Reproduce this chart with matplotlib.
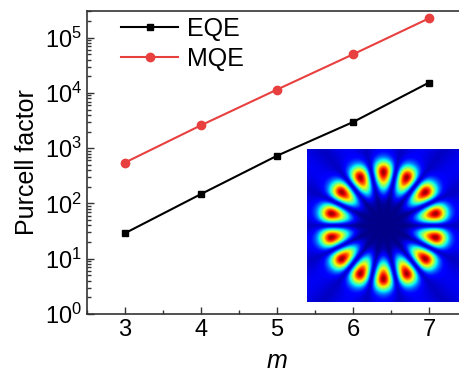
import numpy as np
import matplotlib
matplotlib.use("Agg")
import matplotlib.pyplot as plt
from matplotlib.ticker import LogLocator, FuncFormatter, MultipleLocator, NullFormatter

plt.rcParams['font.family'] = ['Liberation Sans', 'DejaVu Sans']
plt.rcParams['mathtext.default'] = 'regular'

m_values = [3, 4, 5, 6, 7]
eqe = [29, 148, 730, 2970, 15400]
mqe = [550, 2600, 11500, 50000, 224000]
series_labels = ["EQE", "MQE"]
x_label = "m"
y_label = "Purcell factor"

W, H = 459, 379
fig = plt.figure(figsize=(W / 100, H / 100), dpi=100)
ax = fig.add_axes([87 / W, 1 - 314 / H, 380 / W, 303 / H])

ax.plot(m_values, eqe, color='black', lw=1.5, marker='s', ms=5, label=series_labels[0])
ax.plot(m_values, mqe, color='#e8403f', lw=1.5, marker='o', ms=6, label=series_labels[1])

ax.set_yscale('log')
ax.set_xlim(2.5, 7.5)
ax.set_ylim(1, 3.04e5)
ax.xaxis.set_major_locator(MultipleLocator(1))
ax.xaxis.set_minor_locator(MultipleLocator(0.5))
ax.yaxis.set_major_locator(LogLocator(base=10, numticks=10))
ax.yaxis.set_minor_locator(LogLocator(base=10, subs=np.arange(2, 10), numticks=20))
ax.yaxis.set_minor_formatter(NullFormatter())
ax.yaxis.set_major_formatter(FuncFormatter(lambda v, p: r'$10^{%d}$' % int(round(np.log10(v)))))

ax.tick_params(which='both', direction='in', top=False, right=False, labelsize=17, width=1.0, color='#333333')
ax.tick_params(which='major', length=5)
ax.tick_params(which='minor', length=3)
for s in ax.spines.values():
    s.set_linewidth(1.2)
    s.set_color('#333333')
ax.spines['right'].set_visible(False)

ax.set_xlabel(x_label, fontsize=18, style='italic', labelpad=6)
ax.set_ylabel(y_label, fontsize=18, labelpad=4)

leg = ax.legend(loc='upper left', frameon=False, fontsize=18, handlelength=2.3,
                handletextpad=0.35, labelspacing=0.25, bbox_to_anchor=(0.03, 1.055))

# inset field pattern (azimuthal order 7 -> 14 lobes)
n = 301
g = np.linspace(-1, 1, n)
X, Y = np.meshgrid(g, g)
R = np.hypot(X, Y)
T = np.arctan2(-Y, X)
r0 = 0.69
s = np.where(R < r0, 0.22, 0.15)
A = 0.87 * np.exp(-((R - r0) / s) ** 2) * (R / r0) ** 0.6
ang = (np.sin(7 * T) ** 2) ** 0.7
bg = (0.012 + 0.09 / (1 + np.exp(-(R - 0.42) / 0.05))) * (0.6 + 0.4 * ang)
I = A * ang + bg

ax_in = fig.add_axes([306.5 / W, 1 - 302 / H, 153 / W, 153 / H])
ax_in.imshow(I, cmap='jet', vmin=0, vmax=1, origin='upper', extent=(-1, 1, -1, 1), interpolation='bilinear')
ax_in.set_axis_off()

fig.savefig('out.png', dpi=100)
